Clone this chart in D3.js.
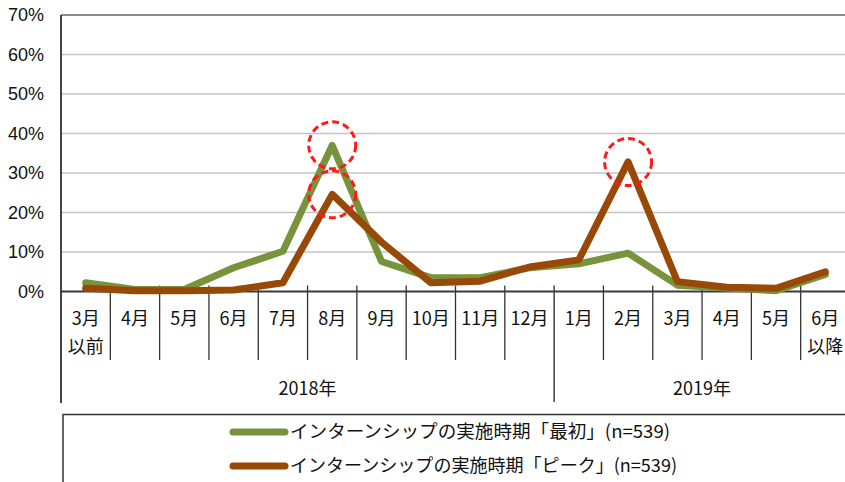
<!DOCTYPE html>
<html><head><meta charset="utf-8">
<script src="https://cdn.jsdelivr.net/npm/d3@7"></script>
<style>
html,body{margin:0;padding:0;background:#fff;overflow:hidden;}
svg{display:block;}
text{font-family:"Noto Sans CJK JP","Liberation Sans",sans-serif;fill:#111;}
</style></head>
<body><div id="chart"></div>
<script>
const categories = ["3月\n以前","4月","5月","6月","7月","8月","9月","10月","11月","12月","1月","2月","3月","4月","5月","6月\n以降"];
const years = [{label:"2018年", from:0, to:10},{label:"2019年", from:10, to:16}];
const seriesFirst = [2.2,0.5,0.5,6.0,10.2,37.0,7.6,3.5,3.5,6.0,7.0,9.7,1.6,0.9,0.2,4.3];
const seriesPeak  = [0.8,0.2,0.2,0.4,2.2,24.6,12.5,2.2,2.6,6.2,8.0,32.8,2.5,1.1,0.8,5.0];
const seriesNames = ["インターンシップの実施時期「最初」(n=539)","インターンシップの実施時期「ピーク」(n=539)"];
const seriesColors = ["#77933C","#984807"];
const yTicks = [0,10,20,30,40,50,60,70];
const highlights = [{series:0, index:5},{series:1, index:5},{series:1, index:11}];

const W=845,H=482;
const svg=d3.select("#chart").append("svg").attr("width",W).attr("height",H);
const x0=61, x1=850, yTop=15, yBot=291.5;
const x=d3.scaleBand().domain(d3.range(categories.length)).range([x0,x1]).padding(0);
const y=d3.scaleLinear().domain([0,70]).range([yBot,yTop]);

// grid
svg.append("g").selectAll("line").data(yTicks.filter(d=>d>0)).join("line")
  .attr("x1",x0).attr("x2",x1).attr("y1",d=>y(d)).attr("y2",d=>y(d))
  .attr("stroke",d=>d===70?"#8c8c8c":"#c4c4c4").attr("stroke-width",d=>d===70?2:1.5);

// y labels
svg.append("g").selectAll("text").data(yTicks).join("text")
  .attr("x",44).attr("y",d=>y(d)).attr("dy","0.36em").attr("text-anchor","end")
  .attr("font-size",18).style("font-family","'Liberation Sans Narrow','Arial Narrow','Liberation Sans',sans-serif")
  .text(d=>d+"%");

// category separators
svg.append("g").selectAll("line").data(d3.range(1,categories.length)).join("line")
  .attr("x1",d=>x(d)).attr("x2",d=>x(d))
  .attr("y1",yBot-6).attr("y2",d=>years.some(yy=>yy.from===d)?402:360)
  .attr("stroke",d=>years.some(yy=>yy.from===d)?"#222":"#333").attr("stroke-width",1.3);

// left axis
svg.append("line").attr("x1",x0).attr("x2",x0).attr("y1",yTop).attr("y2",403).attr("stroke","#444").attr("stroke-width",2);
// zero axis
svg.append("line").attr("x1",x0).attr("x2",x1).attr("y1",yBot).attr("y2",yBot).attr("stroke","#3a3a3a").attr("stroke-width",2.2);

// category labels
const cl=svg.append("g");
categories.forEach((c,i)=>{
  const lines=c.split("\n");
  const t=cl.append("text").attr("x",x(i)+x.bandwidth()/2).attr("y",325).attr("text-anchor","middle").attr("font-size",18);
  lines.forEach((l,k)=>t.append("tspan").attr("x",x(i)+x.bandwidth()/2).attr("dy",k===0?0:28).text(l));
});
// year labels
svg.append("g").selectAll("text").data(years).join("text")
  .attr("x",d=>(x(d.from)+(d.to<categories.length?x(d.to):x1))/2).attr("y",395)
  .attr("text-anchor","middle").attr("font-size",18).text(d=>d.label);

// lines
const line=d3.line().x((d,i)=>x(i)+x.bandwidth()/2).y(d=>y(d));
[seriesFirst,seriesPeak].forEach((s,k)=>{
  svg.append("path").datum(s).attr("d",line).attr("fill","none")
    .attr("stroke",seriesColors[k]).attr("stroke-width",7).attr("stroke-linejoin","round").attr("stroke-linecap","round");
});

// highlight circles
const sArr=[seriesFirst,seriesPeak];
svg.append("g").selectAll("circle").data(highlights).join("circle")
  .attr("cx",d=>x(d.index)+x.bandwidth()/2).attr("cy",d=>y(sArr[d.series][d.index]))
  .attr("r",23.5).attr("fill","none").attr("stroke","#ff1a1a").attr("stroke-width",3).attr("stroke-dasharray","7,4");

// legend box
svg.append("path").attr("d",`M63,${H+2}V414.5H${W+2}`).attr("fill","none").attr("stroke","#333").attr("stroke-width",1.5);
const lg=svg.append("g");
const legendLen=[380,387];
seriesNames.forEach((n,k)=>{
  const yy=432+k*34;
  lg.append("line").attr("x1",233).attr("x2",285).attr("y1",yy).attr("y2",yy)
    .attr("stroke",seriesColors[k]).attr("stroke-width",7).attr("stroke-linecap","round");
  lg.append("text").attr("x",290).attr("y",yy).attr("dy","0.36em").attr("font-size",18)
    .attr("textLength",legendLen[k]).attr("lengthAdjust","spacingAndGlyphs").text(n);
});
</script></body></html>
